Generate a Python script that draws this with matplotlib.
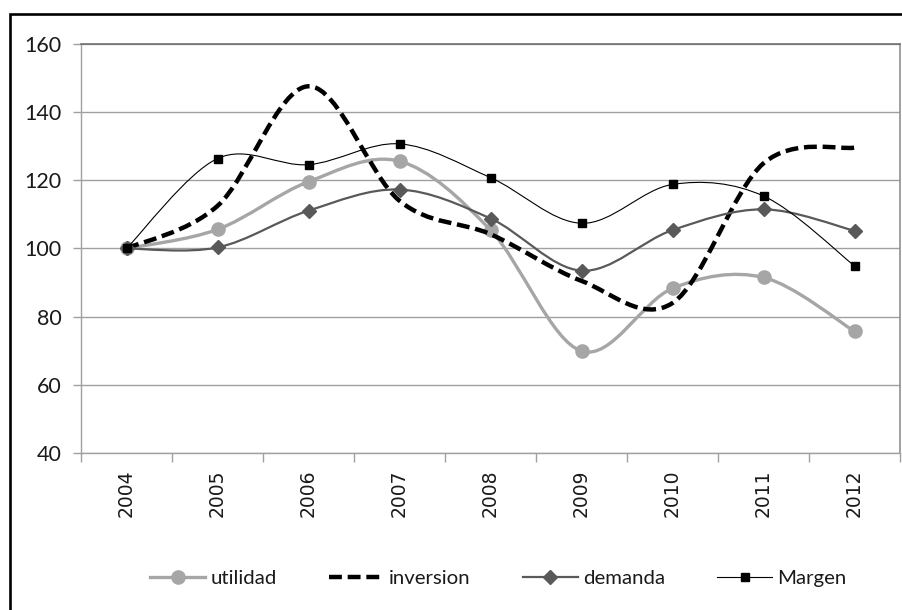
import matplotlib
matplotlib.use("Agg")
import matplotlib.pyplot as plt
from matplotlib.path import Path
from matplotlib.patches import PathPatch, Rectangle
from matplotlib.lines import Line2D
import numpy as np

years = ["2004", "2005", "2006", "2007", "2008", "2009", "2010", "2011", "2012"]
utilidad = [100, 105.6, 119.6, 125.6, 105.4, 69.9, 88.3, 91.5, 75.7]
inversion = [100, 112.5, 147.6, 114.0, 104.2, 90.5, 84.0, 125.0, 129.6]
demanda = [100, 100.3, 111.1, 117.3, 108.8, 93.5, 105.4, 111.5, 105.2]
margen = [100, 126.4, 124.6, 130.7, 120.8, 107.4, 118.8, 115.4, 94.9]
yticks = [40, 60, 80, 100, 120, 140, 160]

narrow = ['Lato', 'DejaVu Sans']

fig = plt.figure(figsize=(9.02, 6.10), dpi=100)
ax = fig.add_axes([81/902, 1-453/610, (900-81)/902, (453-44)/610])


def smooth_path(xs, ys):
    pts = np.column_stack([xs, ys]).astype(float)
    n = len(pts)
    verts = [pts[0]]
    codes = [Path.MOVETO]
    for i in range(n - 1):
        p0 = pts[i - 1] if i > 0 else pts[i]
        p1 = pts[i]
        p2 = pts[i + 1]
        p3 = pts[i + 2] if i + 2 < n else pts[i + 1]
        c1 = p1 + (p2 - p0) / 6.0
        c2 = p2 - (p3 - p1) / 6.0
        verts += [c1, c2, p2]
        codes += [Path.CURVE4] * 3
    return Path(verts, codes)


x = np.arange(len(years))

series = [
    (utilidad, dict(color='#a6a6a6', lw=2.4, ls='-'), dict(marker='o', ms=9.5, mfc='#a6a6a6', mec='#a6a6a6'), 'utilidad'),
    (inversion, dict(color='black', lw=3.2, ls=(0, (2.9, 1.3))), None, 'inversion'),
    (demanda, dict(color='#595959', lw=1.6, ls='-'), dict(marker='D', ms=7.5, mfc='#595959', mec='#595959'), 'demanda'),
    (margen, dict(color='black', lw=0.8, ls='-'), dict(marker='s', ms=6, mfc='black', mec='black'), 'Margen'),
]

handles = []
for i, (vals, lstyle, mstyle, name) in enumerate(series):
    patch = PathPatch(smooth_path(x, vals), facecolor='none', edgecolor=lstyle['color'],
                      lw=lstyle['lw'], linestyle=lstyle['ls'], zorder=3 + i)
    patch.set_capstyle('butt')
    ax.add_patch(patch)
    if mstyle:
        ax.plot(x, vals, ls='none', zorder=3 + i + 0.5, **mstyle)
        handles.append(Line2D([], [], color=lstyle['color'], lw=lstyle['lw'], **mstyle, label=name))
    else:
        handles.append(Line2D([], [], color=lstyle['color'], lw=lstyle['lw'], ls=lstyle['ls'],
                              dash_capstyle='butt', label=name))

ax.set_xlim(-0.5, len(years) - 0.5)
ax.set_ylim(40, 160)
ax.set_yticks(yticks)
ax.set_yticklabels([str(v) for v in yticks], fontfamily=narrow, fontsize=15.5, color='#1a1a1a')
ax.set_xticks(x)
ax.set_xticklabels(years, rotation=90, fontfamily=['DejaVu Sans'], fontsize=13.5, color='#1a1a1a')
ax.set_xticks(np.arange(-0.5, len(years)), minor=True)
ax.tick_params(axis='x', which='major', length=0, pad=12)
ax.tick_params(axis='x', which='minor', length=6.5, color='#a0a0a0', width=1)
ax.tick_params(axis='y', which='major', length=6, color='#a0a0a0', width=1, pad=8)
ax.grid(axis='y', color='#a0a0a0', lw=1)
ax.set_axisbelow(True)
for s in ['left', 'bottom']:
    ax.spines[s].set_color('#a0a0a0')
    ax.spines[s].set_linewidth(1)
ax.spines['top'].set_color('#707070')
ax.spines['right'].set_color('#909090')
ax.spines['top'].set_linewidth(1.2)
ax.spines['right'].set_linewidth(1.2)

leg = fig.legend(handles=handles, loc='center', bbox_to_anchor=(498.5/902, 1-578/610), ncol=4,
                 frameon=False, prop={'family': narrow, 'size': 14.7}, handlelength=2.7,
                 handletextpad=0.25, columnspacing=2.55, numpoints=1, borderpad=0)
for t in leg.get_texts():
    t.set_color('#1a1a1a')

fig.add_artist(Rectangle((9.5/902, -0.2), 1.2, 1.2 - 13.5/610, transform=fig.transFigure,
                         fill=False, ec='black', lw=1.9))

fig.savefig('out.png', dpi=100)
